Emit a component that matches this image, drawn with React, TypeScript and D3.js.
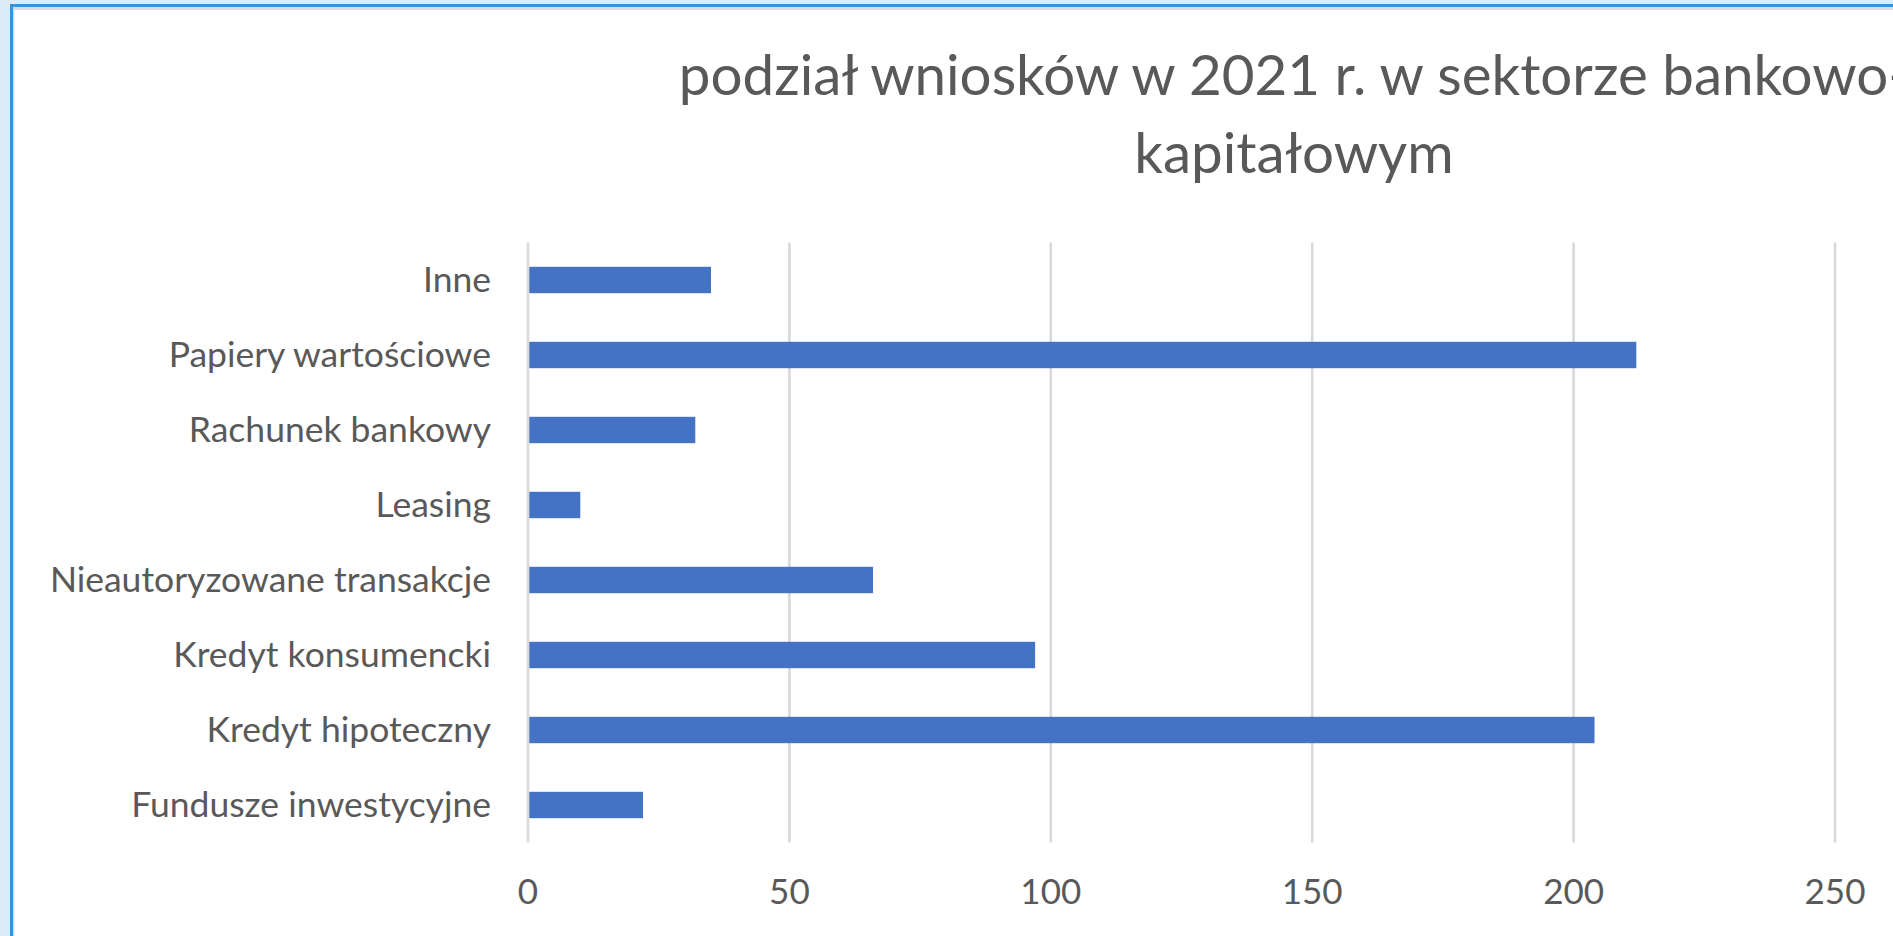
import React, {useEffect, useRef} from 'react';
import * as d3 from 'd3';

// categories as listed in the sheet (first one ends up at the bottom)
const categories = [
    'Fundusze inwestycyjne',
    'Kredyt hipoteczny',
    'Kredyt konsumencki',
    'Nieautoryzowane transakcje',
    'Leasing',
    'Rachunek bankowy',
    'Papiery wartościowe',
    'Inne',
];
const values = [22, 204, 97, 66, 10, 32, 212, 35];
const xTicks = [0, 50, 100, 150, 200, 250];
const titleLines = ['podział wniosków w 2021 r. w sektorze bankowo-', 'kapitałowym'];

const W = 1893;
const H = 936;
const FONT = 'Lato, "Open Sans", sans-serif';
const TEXT = '#595959';

const BarChart = () => {
    const svgRef = useRef(null);

    useEffect(() => {
        const svg = d3.select(svgRef.current);
        svg.selectAll('*').remove();

        const margin = {top: 242.5, left: 528, right: W - 1835, bottom: H - 842.5};

        // frame around the chart area
        svg.append('rect').attr('width', W).attr('height', H).attr('fill', '#dcebf5');
        svg.append('rect').attr('x', 10).attr('y', 4).attr('width', W).attr('height', H).attr('fill', '#3d93d3');
        svg.append('rect').attr('x', 13).attr('y', 7).attr('width', W).attr('height', H).attr('fill', '#dadae2');
        svg.append('rect').attr('x', 14.5).attr('y', 10).attr('width', W).attr('height', H).attr('fill', '#ffffff');

        const data = categories.map((c, i) => ({cat: c, value: values[i]}));

        const xScale = d3.scaleLinear().domain([0, 250]).range([margin.left, W - margin.right]);
        const yScale = d3.scaleBand()
            .domain(categories.slice().reverse())
            .range([margin.top, H - margin.bottom])
            .paddingInner(0.648)
            .paddingOuter(0.324);

        // vertical gridlines
        svg.append('g').selectAll('line')
            .data(xTicks)
            .join('line')
            .attr('x1', d => xScale(d))
            .attr('x2', d => xScale(d))
            .attr('y1', margin.top)
            .attr('y2', H - margin.bottom)
            .attr('stroke', '#d9d9d9')
            .attr('stroke-width', 2.6);

        svg.append('g').selectAll('rect')
            .data(data)
            .join('rect')
            .attr('x', xScale(0) + 1.3)
            .attr('y', d => yScale(d.cat))
            .attr('width', d => xScale(d.value) - xScale(0) - 1.3)
            .attr('height', yScale.bandwidth())
            .attr('fill', '#4472c4');

        // category labels
        svg.append('g').selectAll('text')
            .data(categories)
            .join('text')
            .attr('x', 491)
            .attr('y', d => yScale(d) + yScale.bandwidth() / 2 + 12)
            .attr('text-anchor', 'end')
            .attr('font-family', FONT)
            .attr('font-size', 35.5)
            .attr('fill', TEXT)
            .text(d => d);

        // tick labels
        svg.append('g').selectAll('text')
            .data(xTicks)
            .join('text')
            .attr('x', d => xScale(d))
            .attr('y', 904)
            .attr('text-anchor', 'middle')
            .attr('font-family', FONT)
            .attr('font-size', 35)
            .attr('fill', TEXT)
            .text(d => d);

        // title, two lines
        svg.append('g').selectAll('text')
            .data(titleLines)
            .join('text')
            .attr('x', 1294)
            .attr('y', (d, i) => 95 + i * 78)
            .attr('text-anchor', 'middle')
            .attr('font-family', FONT)
            .attr('font-size', 56.5)
            .attr('fill', TEXT)
            .text(d => d);
    }, []);

    return (
        <svg ref={svgRef} width={W} height={H} style={{position: 'absolute', left: 0, top: 0, display: 'block'}}></svg>
    );
}

export default function App() {
    useEffect(() => {
        document.body.style.margin = '0';
        document.body.style.overflow = 'hidden';
    }, []);
    return <BarChart/>;
}
